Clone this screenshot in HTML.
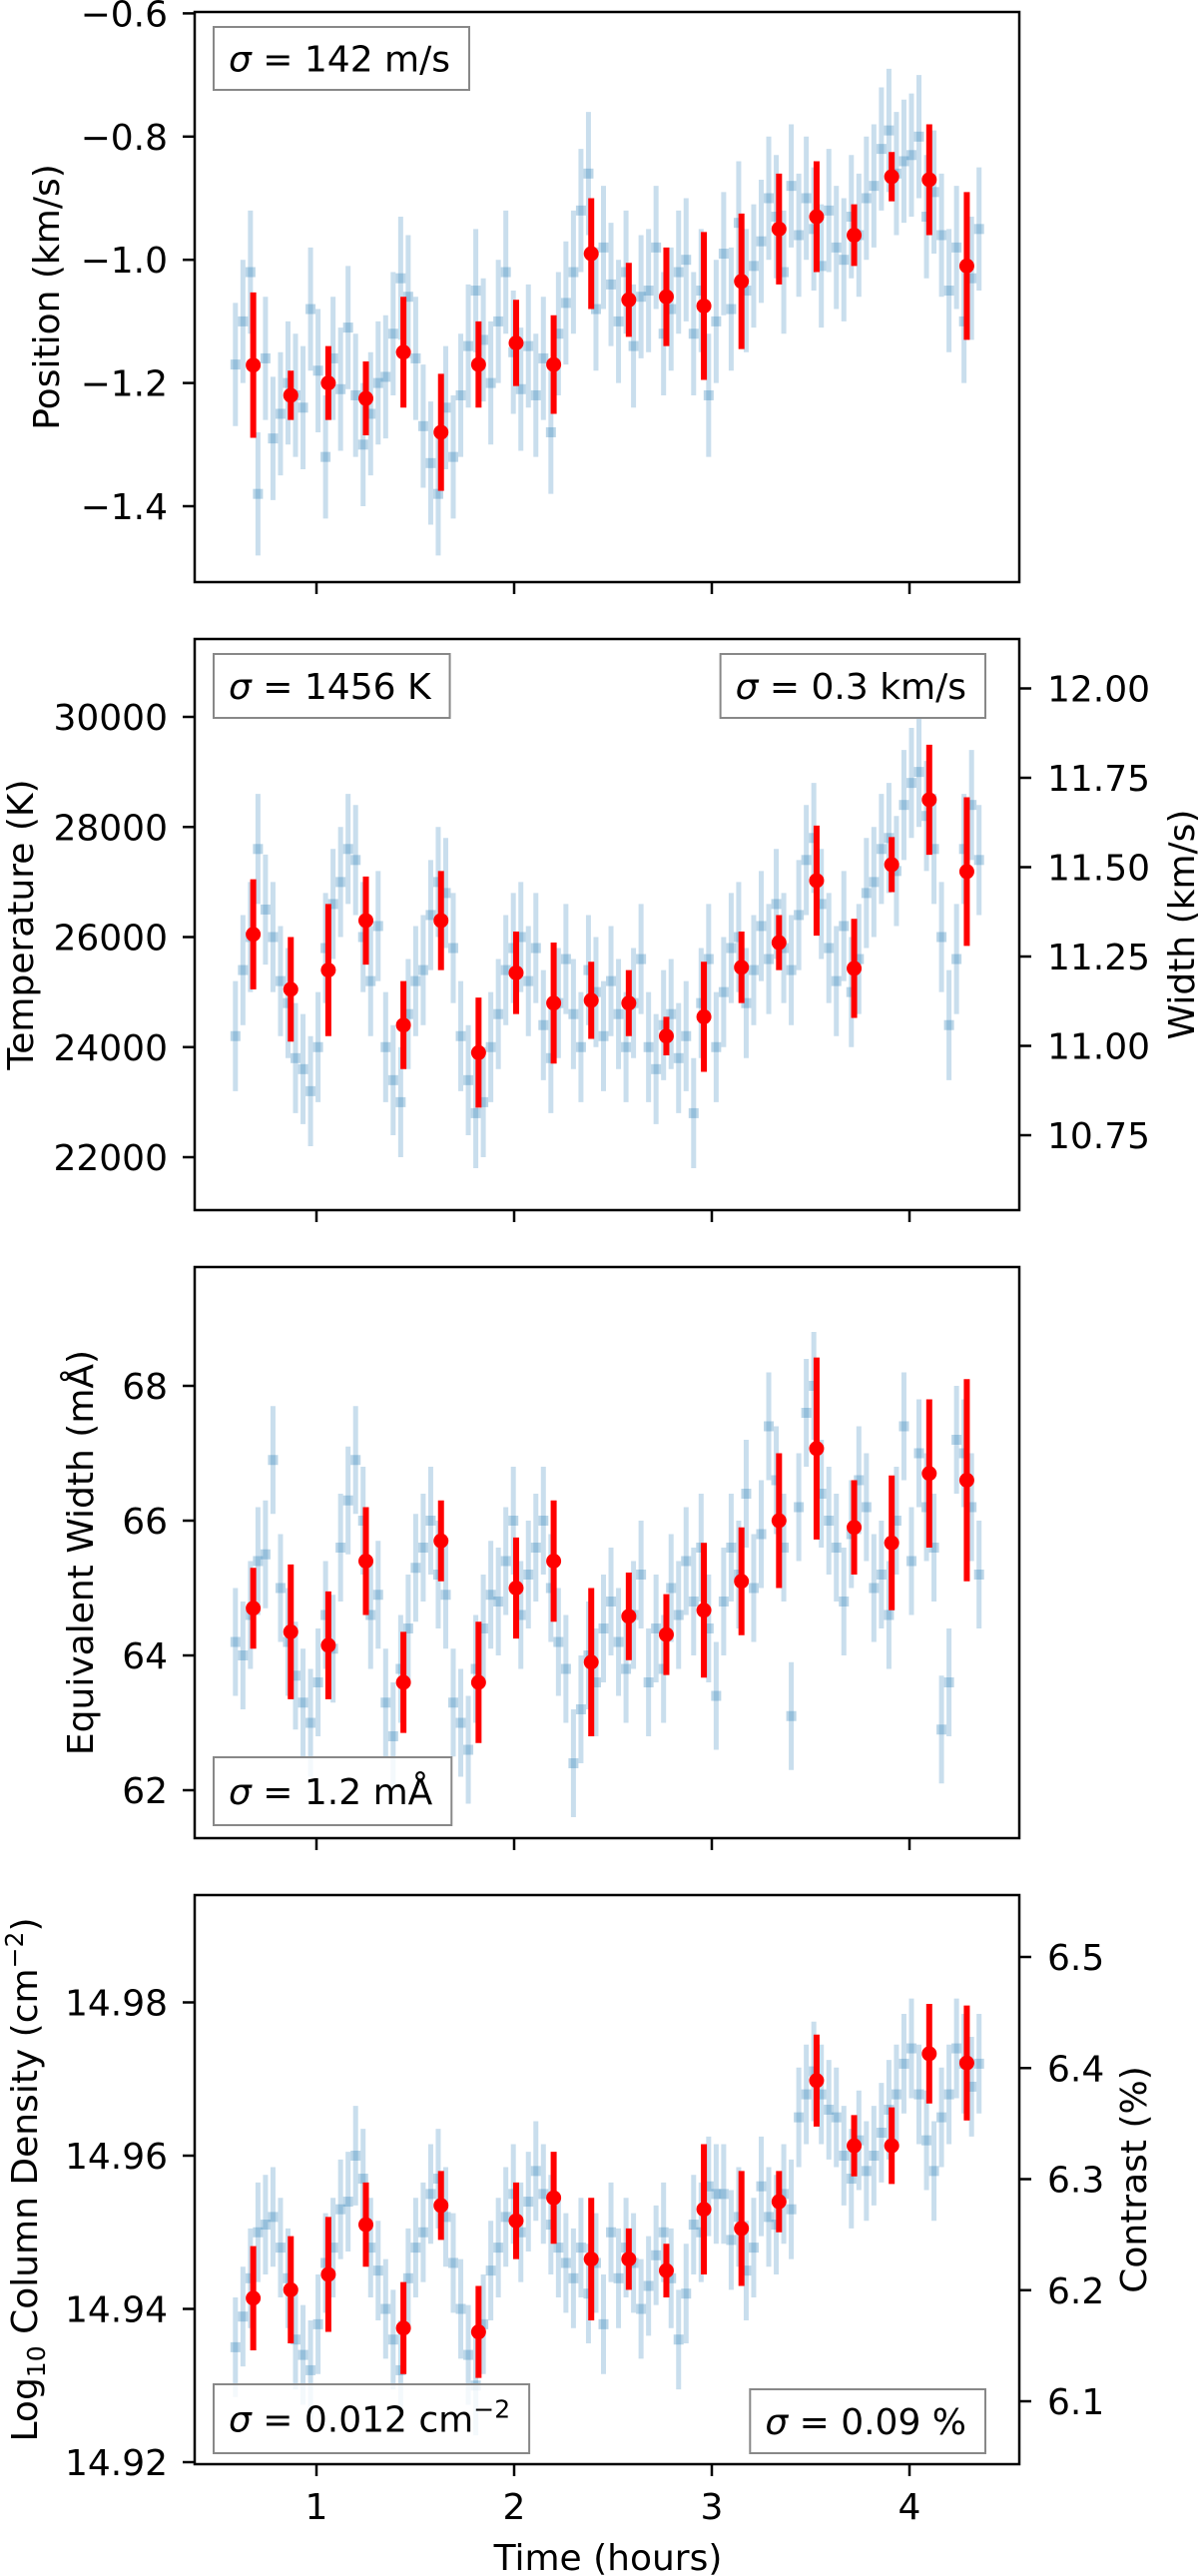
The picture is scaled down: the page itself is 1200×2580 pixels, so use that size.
<!DOCTYPE html>
<html><head><meta charset="utf-8"><title>Time series panels</title>
<style>
html,body{margin:0;padding:0;background:#fff;}
svg{display:block;font-family:"DejaVu Sans","Liberation Sans",sans-serif;}
</style></head>
<body>
<svg id="chart" xmlns="http://www.w3.org/2000/svg" width="1200" height="2580" viewBox="0 0 1200 2580"></svg>
<script>
// ---- shared data ----
const redTimes = [0.68,0.87,1.06,1.25,1.44,1.63,1.82,2.01,2.20,2.39,2.58,2.77,2.96,3.15,3.34,3.53,3.72,3.91,4.10,4.29];
const blueTimes = Array.from({length:100},(_, i)=>+(0.59+0.038*i).toFixed(3));
const xTicks = [1,2,3,4];

// Panel 1: Position (km/s)
const posRed = [-1.171,-1.22,-1.20,-1.225,-1.15,-1.28,-1.17,-1.135,-1.17,-0.99,-1.065,-1.06,-1.075,-1.035,-0.95,-0.93,-0.96,-0.865,-0.87,-1.01];
const posRedErr = [0.118,0.04,0.06,0.06,0.09,0.095,0.07,0.07,0.08,0.09,0.06,0.08,0.12,0.11,0.09,0.09,0.05,0.04,0.09,0.12];
const posBlue = [-1.17,-1.10,-1.02,-1.38,-1.16, -1.29,-1.25,-1.20,-1.22,-1.24, -1.08,-1.18,-1.32,-1.16,-1.21, -1.11,-1.22,-1.30,-1.25,-1.20,
 -1.19,-1.12,-1.03,-1.06,-1.16, -1.27,-1.33,-1.38,-1.24,-1.32, -1.22,-1.14,-1.05,-1.13,-1.20, -1.10,-1.02,-1.15,-1.21,-1.14,
 -1.22,-1.16,-1.28,-1.12,-1.07, -1.02,-0.92,-0.86,-1.08,-0.98, -1.04,-1.10,-1.02,-1.14,-1.06, -1.05,-0.98,-1.12,-1.08,-1.02,
 -1.00,-1.12,-1.05,-1.22,-1.10, -0.99,-1.08,-0.94,-1.05,-1.01, -0.97,-0.90,-0.93,-1.02,-0.88, -0.96,-0.90,-0.95,-1.01,-0.92,
 -0.98,-1.00,-0.93,-0.96,-0.90, -0.88,-0.82,-0.79,-0.86,-0.84, -0.83,-0.80,-0.93,-0.89,-0.96, -1.05,-0.98,-1.10,-1.03,-0.95];
const posTicks = [-0.6,-0.8,-1.0,-1.2,-1.4];
const posTickLabels = ["\u22120.6","\u22120.8","\u22121.0","\u22121.2","\u22121.4"];

// Panel 2: Temperature (K) / Width (km/s)
const tempRed = [26050,25050,25400,26300,24400,26300,23900,25350,24800,24850,24800,24200,24550,25450,25900,27026,25430,27317,28495,27190];
const tempRedErr = [1000,950,1200,800,800,900,1000,750,1100,700,600,350,1000,650,500,1000,900,500,1000,1350];
const tempBlue = [24200,25400,26000,27600,26500, 26000,25200,24800,23800,23600, 23200,24000,25800,26600,27000, 27600,27400,26000,25200,26200,
 24000,23400,23000,24600,25200, 25400,26400,27000,26800,25800, 24200,23400,22800,23000,24000, 24600,25400,25800,26000,25200,
 25800,24400,23800,24800,25600, 24600,24000,25400,25000,24200, 25200,24600,24000,24800,25600, 24000,23600,24400,24600,23800,
 24200,22800,24800,25600,24000, 25000,25800,26000,24800,25400, 26200,25600,26600,25800,25400, 26400,27400,27800,26600,25800,
 25200,26200,25000,25600,26800, 27000,27600,27800,27200,28400, 28800,29000,28200,27600,26000, 24400,25600,27600,28400,27400];
const tempTicks = [22000,24000,26000,28000,30000];
const widthTicks = [10.75,11.00,11.25,11.50,11.75,12.00];
const widthTickLabels = ["10.75","11.00","11.25","11.50","11.75","12.00"];

// Panel 3: Equivalent Width (mÅ)
const ewRed = [64.7,64.35,64.15,65.4,63.6,65.7,63.6,65.0,65.4,63.9,64.58,64.31,64.67,65.1,66.0,67.07,65.9,65.67,66.7,66.6];
const ewRedErr = [0.6,1.0,0.8,0.8,0.75,0.6,0.9,0.75,0.9,1.1,0.65,0.6,1.0,0.8,1.0,1.35,0.7,1.0,1.1,1.5];
const ewBlue = [64.2,64.0,64.6,65.4,65.5, 66.9,65.0,64.2,63.7,63.3, 63.0,63.6,64.6,64.1,65.6, 66.3,66.9,66.0,64.6,64.9,
 63.3,62.8,63.8,64.4,65.3, 65.6,66.0,65.2,64.9,63.3, 63.0,62.6,63.8,64.4,64.9, 64.8,65.4,66.0,64.6,65.2,
 65.6,66.0,65.0,64.2,63.8, 62.4,63.2,64.0,63.6,64.4, 64.8,64.2,63.8,64.6,65.2, 63.6,64.4,63.8,65.0,64.6,
 65.4,64.8,65.6,64.4,63.4, 64.8,65.6,65.2,66.4,65.0, 65.8,67.4,66.6,65.6,63.1, 66.2,67.6,68.0,66.4,66.0,
 65.6,64.8,65.8,66.6,66.2, 65.0,65.2,64.6,66.0,67.4, 65.4,67.0,66.2,65.6,62.9, 63.6,67.2,67.0,66.2,65.2];
const ewTicks = [62,64,66,68];

// Panel 4: Log10 Column Density / Contrast (%)
const colRed = [14.9414,14.9425,14.9445,14.951,14.9375,14.9535,14.937,14.9515,14.9545,14.9465,14.9465,14.945,14.953,14.9505,14.954,14.9698,14.9613,14.9613,14.9733,14.9721];
const colRedErr = [0.0068,0.007,0.0075,0.0055,0.006,0.0045,0.006,0.005,0.006,0.008,0.004,0.0035,0.0085,0.0075,0.004,0.006,0.004,0.005,0.0065,0.0075];
const colBlue = [14.935,14.939,14.944,14.950,14.951, 14.952,14.948,14.944,14.936,14.934, 14.932,14.938,14.946,14.948,14.953, 14.954,14.960,14.957,14.948,14.945,
 14.940,14.936,14.932,14.944,14.948, 14.950,14.955,14.957,14.952,14.946, 14.940,14.934,14.930,14.938,14.945, 14.948,14.952,14.955,14.950,14.954,
 14.958,14.955,14.951,14.948,14.946, 14.944,14.948,14.942,14.946,14.938, 14.950,14.944,14.948,14.946,14.940, 14.943,14.947,14.950,14.944,14.936,
 14.942,14.951,14.950,14.956,14.955, 14.955,14.949,14.952,14.945,14.948, 14.956,14.952,14.951,14.955,14.953, 14.965,14.968,14.971,14.968,14.966,
 14.965,14.960,14.957,14.962,14.958, 14.960,14.963,14.966,14.968,14.972, 14.974,14.968,14.962,14.958,14.965, 14.968,14.974,14.972,14.969,14.972];
const colTicks = [14.92,14.94,14.96,14.98];
const contrastTicks = [6.1,6.2,6.3,6.4,6.5];

// ---- drawing ----
const NS = "http://www.w3.org/2000/svg";
const svg = document.getElementById("chart");
function mk(tag, attrs, parent){
  const e = document.createElementNS(NS, tag);
  for (const k in attrs) e.setAttribute(k, attrs[k]);
  (parent||svg).appendChild(e);
  return e;
}
const L = 195, R = 1021;
function xScale(t){ return 317 + (t - 1) * 198; }
function linScale(v0, p0, v1, p1){ return v => p0 + (v - v0) * (p1 - p0) / (v1 - v0); }

const panels = [
  {name:"position", top:12, bottom:583, y:linScale(-0.6,13.4,-1.4,507), blue:posBlue, blueErr:0.1, red:posRed, redErr:posRedErr, ticks:posTicks, labels:posTickLabels, label:"Position (km/s)", labelX:46},
  {name:"temperature", top:640, bottom:1212, y:linScale(30000,718,22000,1159), blue:tempBlue, blueErr:1000, red:tempRed, redErr:tempRedErr, ticks:tempTicks, labels:tempTicks.map(String), label:"Temperature (K)", labelX:20,
   right:{y:linScale(12.0,689.5,10.75,1137), ticks:widthTicks, labels:widthTickLabels, label:"Width (km/s)", labelX:1183, name:"width"}},
  {name:"equivalent-width", top:1269, bottom:1841, y:linScale(68,1388,62,1793), blue:ewBlue, blueErr:0.8, red:ewRed, redErr:ewRedErr, ticks:ewTicks, labels:ewTicks.map(String), label:"Equivalent Width (m\u00C5)", labelX:80},
  {name:"column-density", top:1898, bottom:2468, y:linScale(14.96,2159,14.92,2466), blue:colBlue, blueErr:0.0065, red:colRed, redErr:colRedErr, ticks:colTicks, labels:colTicks.map(v=>v.toFixed(2)), label:null, labelX:24,
   right:{y:linScale(6.5,1960,6.1,2405), ticks:contrastTicks, labels:contrastTicks.map(v=>v.toFixed(1)), label:"Contrast (%)", labelX:1135, name:"contrast"}}
];

panels.forEach((p, pi) => {
  const g = mk("g", {});
  
  
  const clipId = "clip" + pi;
  const cp = mk("clipPath", {id:clipId}, g);
  mk("rect", {x:L, y:p.top, width:R-L, height:p.bottom-p.top}, cp);
  const data = mk("g", {"clip-path":"url(#"+clipId+")"}, g);

  const bg = mk("g", {}, data);
  
  
  p.blue.forEach((v, i) => {
    const x = xScale(blueTimes[i]);
    const ln = mk("line", {x1:x, x2:x, y1:p.y(v + p.blueErr), y2:p.y(v - p.blueErr), stroke:"#1f77b4", "stroke-width":5, "stroke-opacity":0.24}, bg);
    
    
  });
  p.blue.forEach((v, i) => {
    const x = xScale(blueTimes[i]);
    const sq = mk("rect", {x:x-5, y:p.y(v)-5, width:10, height:10, fill:"#1f77b4", "fill-opacity":0.3}, bg);
    
    
  });
  const rg = mk("g", {}, data);
  
  
  p.red.forEach((v, i) => {
    const x = xScale(redTimes[i]);
    const ln = mk("line", {x1:x, x2:x, y1:p.y(v + p.redErr[i]), y2:p.y(v - p.redErr[i]), stroke:"#ff0000", "stroke-width":6}, rg);
    
    
    const c = mk("circle", {cx:x, cy:p.y(v), r:7.5, fill:"#ff0000"}, rg);
    
    
  });

  const fr = mk("rect", {x:L, y:p.top, width:R-L, height:p.bottom-p.top, fill:"none", stroke:"#000", "stroke-width":2.5}, g);
  
  

  xTicks.forEach(t => {
    const x = xScale(t);
    const tk = mk("line", {x1:x, x2:x, y1:p.bottom, y2:p.bottom+12, stroke:"#000", "stroke-width":2.5}, g);
    
    
    if (pi === panels.length - 1) {
      const tl = mk("text", {x:x, y:2523, "font-size":36, "text-anchor":"middle"}, g);
      tl.textContent = String(t);
      
      
    }
  });
  p.ticks.forEach((v, i) => {
    const y = p.y(v);
    const tk = mk("line", {x1:L-12, x2:L, y1:y, y2:y, stroke:"#000", "stroke-width":2.5}, g);
    
    
    const tl = mk("text", {x:168, y:y+13, "font-size":36, "text-anchor":"end"}, g);
    tl.textContent = p.labels[i];
    
    
  });
  const cy = (p.top + p.bottom) / 2;
  const yl = mk("text", {x:0, y:0, "font-size":36, "text-anchor":"middle", transform:"translate("+(p.labelX+13)+","+cy+") rotate(-90)"}, g);
  if (p.label) {
    yl.textContent = p.label;
  } else {
    yl.appendChild(document.createTextNode("Log"));
    const sub = mk("tspan", {"font-size":25, dy:8}, yl); sub.textContent = "10";
    const rest = mk("tspan", {dy:-8}, yl); rest.textContent = " Column Density (cm";
    const sup = mk("tspan", {"font-size":25, dy:-14}, yl); sup.textContent = "\u22122";
    const cl = mk("tspan", {dy:14}, yl); cl.textContent = ")";
  }
  
  

  if (p.right) {
    const r = p.right;
    r.ticks.forEach((v, i) => {
      const y = r.y(v);
      const tk = mk("line", {x1:R, x2:R+12, y1:y, y2:y, stroke:"#000", "stroke-width":2.5}, g);
      
      
      const tl = mk("text", {x:1049, y:y+13, "font-size":36, "text-anchor":"start"}, g);
      tl.textContent = r.labels[i];
      
      
    });
    const rl = mk("text", {x:0, y:0, "font-size":36, "text-anchor":"middle", transform:"translate("+(r.labelX+13)+","+cy+") rotate(-90)"}, g);
    rl.textContent = r.label;
    
    
  }
});

function box(name, anchor, xEdge, y0, y1, parts){
  const g = mk("g", {});
  
  
  const rect = mk("rect", {x:0, y:y0, width:10, height:y1-y0, fill:"#fff", "fill-opacity":0.8, stroke:"#888", "stroke-width":2}, g);
  const t = mk("text", {x:0, y:(y0+y1)/2+13, "font-size":36}, g);
  parts.forEach(pt => {
    if (typeof pt === "string") { const s = mk("tspan", {}, t); s.textContent = pt; }
    else { const s = mk("tspan", pt.a, t); s.textContent = pt.s; }
  });
  const w = t.getComputedTextLength();
  let tx, rx, rw;
  if (anchor === "left") { rx = xEdge; tx = xEdge + 15; rw = w + 34; }
  else { rw = w + 34; rx = xEdge - rw; tx = rx + 15; }
  t.setAttribute("x", tx);
  rect.setAttribute("x", rx);
  rect.setAttribute("width", rw);
}
const sig = {s:"\u03C3", a:{"font-style":"italic"}};
box("position-sigma-box", "left", 214, 27, 90, [sig, " = 142 m/s"]);
box("temperature-sigma-box", "left", 214, 655, 719, [sig, " = 1456 K"]);
box("width-sigma-box", "right", 987, 655, 719, [sig, " = 0.3 km/s"]);
box("ew-sigma-box", "left", 214, 1760, 1828, [sig, " = 1.2 m\u00C5"]);
box("column-sigma-box", "left", 214, 2388, 2457, [sig, " = 0.012 cm", {s:"\u22122", a:{"font-size":25, dy:-14}}]);
box("contrast-sigma-box", "right", 987, 2393, 2457, [sig, " = 0.09 %"]);

const xt = mk("text", {x:609, y:2574, "font-size":36, "text-anchor":"middle"});
xt.textContent = "Time (hours)";


</script>
</body></html>
